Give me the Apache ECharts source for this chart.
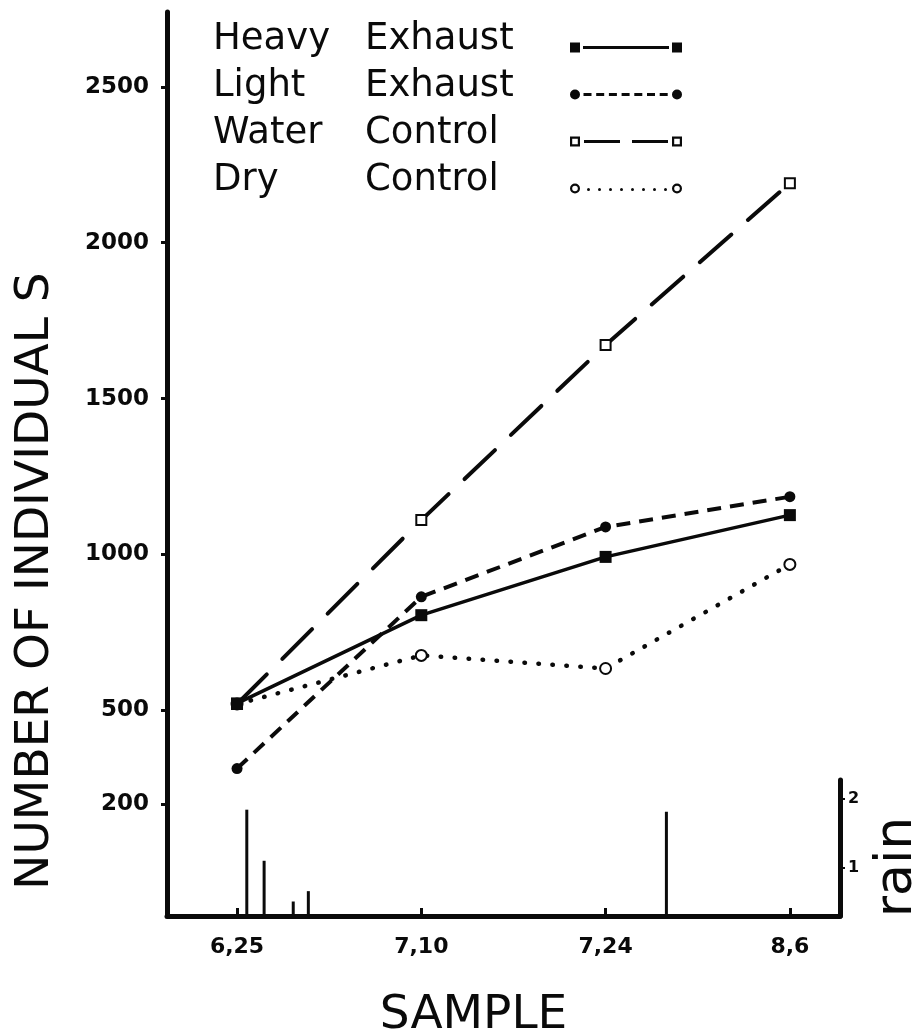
<!DOCTYPE html>
<html>
<head>
<meta charset="utf-8">
<title>Number of individuals by sample</title>
<script src="https://cdn.jsdelivr.net/npm/echarts@6/dist/echarts.min.js"></script>
<style>
  html, body { margin: 0; padding: 0; background: #fff; }
  #chart { width: 918px; height: 1036px; }
</style>
</head>
<body>
<div id="chart"></div>
<script>
// samples (x = sample index, equally spaced on the plate)
var sampleLabels = ['6,25', '7,10', '7,24', '8,6'];
var sampleIdx = [0, 1, 2, 3];

var heavyExhaust = [522, 805, 992, 1126];
var lightExhaust = [313, 864, 1088, 1185];
var waterControl = [520, 1110, 1672, 2191];
var dryControl   = [520, 676, 634, 968];

// rainfall events: position in sample units, amount
var rainPos    = [0.053, 0.147, 0.305, 0.387, 2.33];
var rainAmount = [1.84, 1.10, 0.51, 0.66, 1.81];

var yTicks = [200, 500, 1000, 1500, 2000, 2500];
var rainTicks = [1, 2];

function pairs(xs, ys) {
    var out = [];
    for (var i = 0; i < xs.length; i++) out.push([xs[i], ys[i]]);
    return out;
}

var INK = '#0a0a0a';
var FONT = 'DejaVu Sans';

// legend keys drawn like the plate: mark - line - mark
// box is 112 x 26, a hair-size dot at the top keeps the key sitting low (near the text baseline)
var keyTop = 'M0 0h0.01v0.01h-0.01z ';
var keyIcons = {
    'Heavy Exhaust': 'path://' + keyTop + 'M0 16h10v10h-10z M13 19.6h86v2.8h-86z M102 16h10v10h-10z',
    'Light Exhaust': 'path://' + keyTop + 'M0 21a5 5 0 1 0 10 0a5 5 0 1 0 -10 0z' +
        ' M13.5 19.6h8v2.8h-8z M26.2 19.6h8v2.8h-8z M38.9 19.6h8v2.8h-8z M51.6 19.6h8v2.8h-8z' +
        ' M64.3 19.6h8v2.8h-8z M77 19.6h8v2.8h-8z M89.7 19.6h8v2.8h-8z' +
        ' M102 21a5 5 0 1 0 10 0a5 5 0 1 0 -10 0z',
    'Water Control': 'path://' + keyTop + 'M0 16h10v10h-10z M2.2 18.2v5.6h5.6v-5.6z' +
        ' M14 19.6h36v2.8h-36z M62 19.6h36v2.8h-36z' +
        ' M102 16h10v10h-10z M104.2 18.2v5.6h5.6v-5.6z',
    'Dry Control': 'path://' + keyTop + 'M0 21a5 5 0 1 0 10 0a5 5 0 1 0 -10 0z M2.2 21a2.8 2.8 0 1 1 5.6 0a2.8 2.8 0 1 1 -5.6 0z' +
        ' M17 22a1.5 1.5 0 1 0 3 0a1.5 1.5 0 1 0 -3 0z M28 22a1.5 1.5 0 1 0 3 0a1.5 1.5 0 1 0 -3 0z' +
        ' M39 22a1.5 1.5 0 1 0 3 0a1.5 1.5 0 1 0 -3 0z M50 22a1.5 1.5 0 1 0 3 0a1.5 1.5 0 1 0 -3 0z' +
        ' M61 22a1.5 1.5 0 1 0 3 0a1.5 1.5 0 1 0 -3 0z M72 22a1.5 1.5 0 1 0 3 0a1.5 1.5 0 1 0 -3 0z' +
        ' M83 22a1.5 1.5 0 1 0 3 0a1.5 1.5 0 1 0 -3 0z M94 22a1.5 1.5 0 1 0 3 0a1.5 1.5 0 1 0 -3 0z' +
        ' M102 21a5 5 0 1 0 10 0a5 5 0 1 0 -10 0z M104.2 21a2.8 2.8 0 1 1 5.6 0a2.8 2.8 0 1 1 -5.6 0z'
};
var legendNames = ['Heavy Exhaust', 'Light Exhaust', 'Water Control', 'Dry Control'];

var myChart = echarts.init(document.getElementById('chart'));

var option = {
    backgroundColor: '#fff',
    animation: false,
    textStyle: { fontFamily: FONT, color: INK },
    legend: {
        orient: 'vertical',
        left: 213,
        top: 20,
        padding: 0,
        itemGap: 8,
        itemWidth: 112,
        itemHeight: 26,
        align: 'right',
        selectedMode: false,
        formatter: function (name) {
            var p = name.split(' ');
            return '{a|' + p[0] + '}{b|' + p[1] + '}';
        },
        textStyle: {
            color: INK,
            fontFamily: FONT,
            fontSize: 37,
            lineHeight: 39,
            rich: {
                a: { width: 152, align: 'left', fontSize: 37, fontFamily: FONT, color: INK },
                b: { width: 200, align: 'left', fontSize: 37, fontFamily: FONT, color: INK }
            }
        },
        data: legendNames.map(function (n) {
            return {
                name: n,
                icon: keyIcons[n],
                itemStyle: { color: INK, borderWidth: 0, borderColor: 'transparent' }
            };
        })
    },
    grid: [
        { left: 167, right: 78, top: 12, bottom: 120, containLabel: false, outerBoundsMode: 'none' },
        { left: 167, right: 78, top: 780, bottom: 120, containLabel: false, outerBoundsMode: 'none' }
    ],
    xAxis: [
        {
            type: 'value',
            gridIndex: 0,
            min: -0.38,
            max: 3.272,
            name: 'SAMPLE',
            nameLocation: 'middle',
            nameGap: 76,
            nameTextStyle: { fontSize: 47, color: INK, fontFamily: FONT, padding: [0, 60, 0, 0] },
            splitLine: { show: false },
            axisLine: { show: true, onZero: false, lineStyle: { color: INK, width: 5 } },
            axisTick: { show: true, inside: true, length: 8, customValues: sampleIdx, lineStyle: { color: INK, width: 3 } },
            axisLabel: {
                customValues: sampleIdx,
                margin: 20,
                fontSize: 22,
                fontWeight: 'bold',
                color: INK,
                fontFamily: FONT,
                formatter: function (v) { return sampleLabels[Math.round(v)]; }
            }
        },
        {
            type: 'value',
            gridIndex: 1,
            min: -0.38,
            max: 3.272,
            show: false
        }
    ],
    yAxis: [
        {
            type: 'value',
            gridIndex: 0,
            min: -160,
            max: 2740,
            name: 'NUMBER OF INDIVIDUAL S',
            nameLocation: 'middle',
            nameRotate: 90,
            nameGap: 108,
            nameTextStyle: { fontSize: 47, color: INK, fontFamily: FONT, padding: [0, 234, 0, 0] },
            splitLine: { show: false },
            axisLine: { show: true, onZero: false, lineStyle: { color: INK, width: 5 } },
            axisTick: { show: true, length: 6, customValues: yTicks, lineStyle: { color: INK, width: 3 } },
            axisLabel: {
                customValues: yTicks,
                margin: 18,
                fontSize: 23,
                fontWeight: 'bold',
                color: INK,
                fontFamily: FONT,
                formatter: function (v) { return String(v); }
            }
        },
        {
            type: 'value',
            gridIndex: 1,
            position: 'right',
            min: 0.3,
            max: 2.27,
            name: 'rain',
            nameLocation: 'middle',
            nameRotate: 90,
            nameGap: 31,
            nameTextStyle: { fontSize: 52, color: INK, fontFamily: FONT, padding: [0, 38, 0, 0] },
            splitLine: { show: false },
            axisLine: { show: true, onZero: false, lineStyle: { color: INK, width: 5 } },
            axisTick: { show: true, length: 5, customValues: rainTicks, lineStyle: { color: INK, width: 2 } },
            axisLabel: {
                customValues: rainTicks,
                margin: 8,
                fontSize: 16,
                fontWeight: 'bold',
                color: INK,
                fontFamily: FONT,
                formatter: function (v) { return String(v); }
            }
        }
    ],
    series: [
        {
            name: 'Water Control',
            type: 'line',
            xAxisIndex: 0,
            yAxisIndex: 0,
            data: pairs(sampleIdx, waterControl),
            symbol: 'rect',
            symbolSize: 10,
            itemStyle: { color: '#fff', borderColor: INK, borderWidth: 2 },
            lineStyle: { color: INK, width: 4, type: [42, 22], cap: 'round' },
            z: 2
        },
        {
            name: 'Dry Control',
            type: 'line',
            xAxisIndex: 0,
            yAxisIndex: 0,
            data: pairs(sampleIdx, dryControl),
            symbol: 'circle',
            symbolSize: 11,
            itemStyle: { color: '#fff', borderColor: INK, borderWidth: 2 },
            lineStyle: { color: INK, width: 4.5, type: [0.5, 13.5], cap: 'round' },
            z: 2
        },
        {
            name: 'Light Exhaust',
            type: 'line',
            xAxisIndex: 0,
            yAxisIndex: 0,
            data: pairs(sampleIdx, lightExhaust),
            symbol: 'circle',
            symbolSize: 11,
            itemStyle: { color: INK },
            lineStyle: { color: INK, width: 4, type: [14, 9] },
            z: 3
        },
        {
            name: 'Heavy Exhaust',
            type: 'line',
            xAxisIndex: 0,
            yAxisIndex: 0,
            data: pairs(sampleIdx, heavyExhaust),
            symbol: 'rect',
            symbolSize: 12,
            itemStyle: { color: INK },
            lineStyle: { color: INK, width: 3.5, type: 'solid' },
            z: 4
        },
        {
            name: 'rain',
            type: 'bar',
            xAxisIndex: 1,
            yAxisIndex: 1,
            barWidth: 3,
            data: pairs(rainPos, rainAmount),
            itemStyle: { color: INK }
        }
    ]
};

myChart.setOption(option);

window.addEventListener('resize', function () {
    myChart.resize();
});
</script>
</body>
</html>
